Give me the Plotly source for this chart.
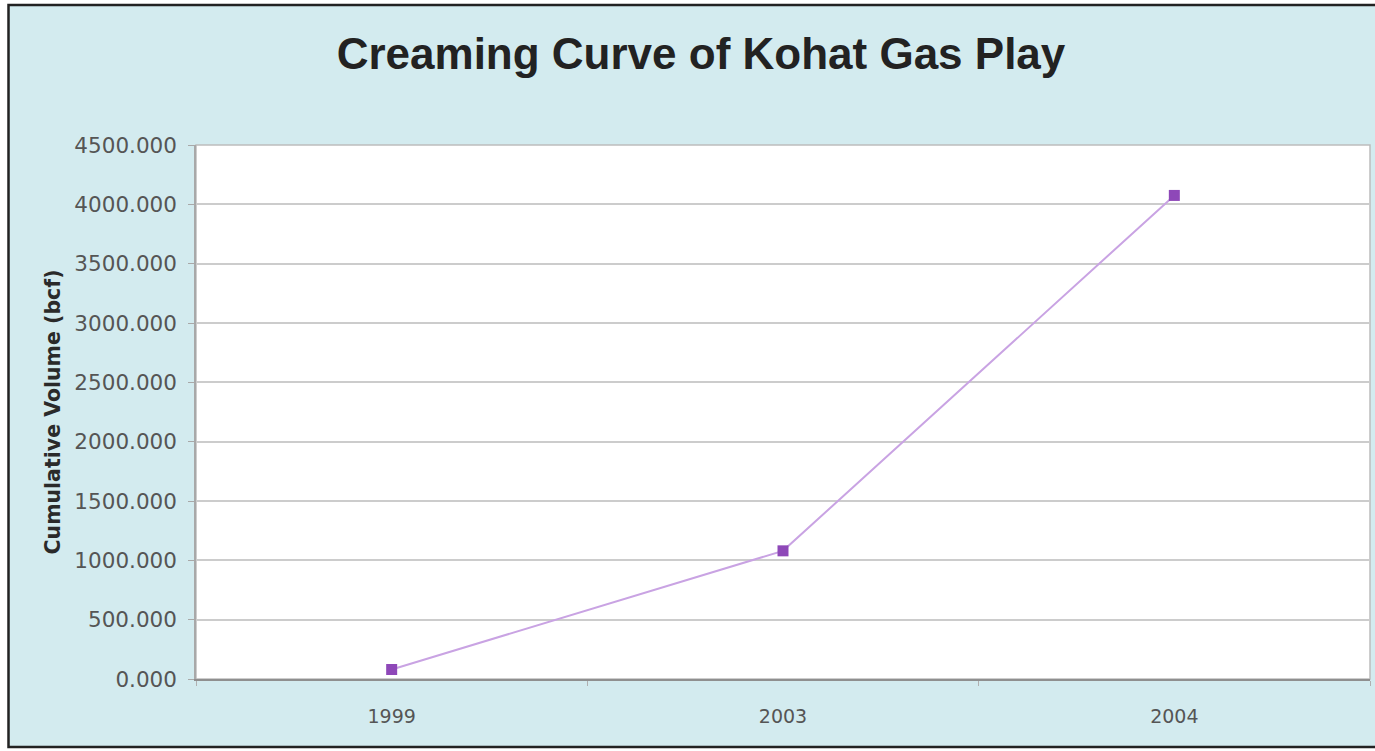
import plotly.graph_objects as go

# Discovery years and cumulative gas volume (bcf)
years = ["1999", "2003", "2004"]
cumulative_bcf = [80, 1080, 4075]

y_ticks = [0, 500, 1000, 1500, 2000, 2500, 3000, 3500, 4000, 4500]
y_tick_text = [f"{v:.3f}" for v in y_ticks]

W, H = 1375, 751
margin = dict(l=196, r=5, t=145, b=72)
pw = W - margin["l"] - margin["r"]
ph = H - margin["t"] - margin["b"]


def px_x(px):
    return (px - margin["l"]) / pw


def px_y(py):
    return (H - margin["b"] - py) / ph


fig = go.Figure()
fig.add_trace(
    go.Scatter(
        x=years,
        y=cumulative_bcf,
        mode="lines+markers",
        line=dict(color="#c9a3e3", width=2),
        marker=dict(symbol="square", size=11, color="#8e48b8"),
        showlegend=False,
        hoverinfo="x+y",
    )
)

fig.update_layout(
    width=W,
    height=H,
    margin=margin,
    paper_bgcolor="white",
    plot_bgcolor="white",
    title=dict(
        text="<b>Creaming Curve of Kohat Gas Play</b>",
        x=(701) / W,
        xanchor="center",
        y=1 - 54 / H,
        yanchor="middle",
        font=dict(family="Liberation Sans, Arial, sans-serif", size=44, color="#222222"),
    ),
    shapes=[
        # outer chart frame
        dict(
            type="rect", xref="paper", yref="paper",
            x0=px_x(8.5), x1=px_x(1390), y0=px_y(747), y1=px_y(5),
            fillcolor="#d3ebef", line=dict(color="#222222", width=2.5),
            layer="below",
        ),
        # plot area
        dict(
            type="rect", xref="paper", yref="paper",
            x0=0, x1=1, y0=0, y1=1,
            fillcolor="white", line=dict(color="#bdbdbd", width=1.5),
            layer="below",
        ),
    ],
)

fig.update_xaxes(
    type="category",
    range=[-0.5, 2.5],
    showgrid=False,
    showline=True,
    linecolor="#8f8f8f",
    linewidth=2,
    ticks="outside",
    tickson="boundaries",
    ticklen=5,
    tickcolor="#b0b0b0",
    ticklabelstandoff=19,
    tickfont=dict(family="DejaVu Sans, sans-serif", size=19, color="#555555"),
    zeroline=False,
)

fig.update_yaxes(
    range=[0, 4500],
    tickvals=y_ticks,
    ticktext=y_tick_text,
    showgrid=True,
    gridcolor="#cccccc",
    gridwidth=2,
    showline=True,
    linecolor="#a8a8a8",
    linewidth=1.5,
    ticks="outside",
    ticklen=6,
    tickcolor="#a8a8a8",
    ticklabelstandoff=7,
    tickfont=dict(family="DejaVu Sans, sans-serif", size=21.5, color="#555555"),
    zeroline=False,
    title=dict(
        text="<b>Cumulative Volume (bcf)</b>",
        font=dict(family="DejaVu Sans, sans-serif", size=20.5, color="#2a2a2a"),
        standoff=8,
    ),
)

fig.write_html("out.html")
